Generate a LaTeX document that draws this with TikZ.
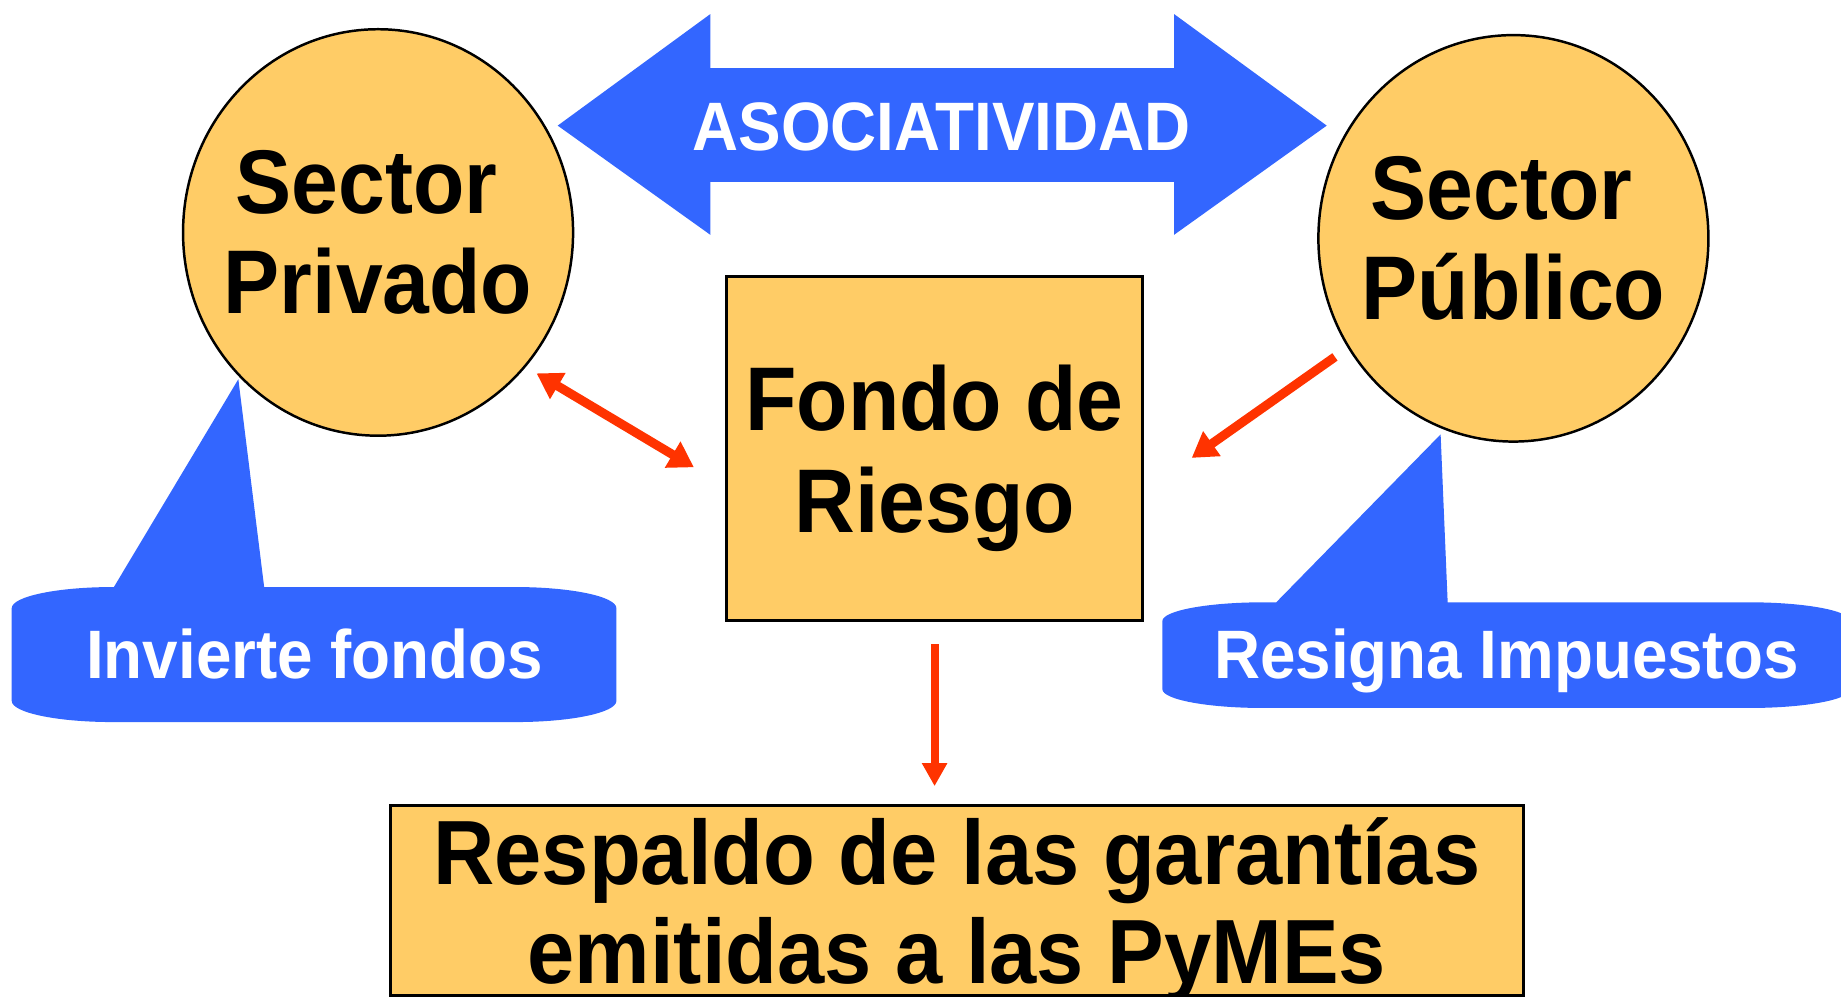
\documentclass[tikz,border=0pt]{standalone}
\usepackage{fontspec}
\setmainfont{Liberation Sans}[FakeStretch=0.93]
\usetikzlibrary{shapes.geometric,arrows.meta}

\definecolor{sectorfill}{HTML}{FFCC66}
\definecolor{asocblue}{HTML}{3366FF}
\definecolor{flecharoja}{HTML}{FF3300}

\begin{document}
\begin{tikzpicture}[x=0.01cm, y=-0.01cm,
  sector/.style={ellipse, draw=black, line width=0.6pt, fill=sectorfill,
    minimum width=3.32cm, minimum height=3.46cm, inner xsep=-0.4cm, inner ysep=0pt,
    align=center, font=\bfseries\fontsize{21.9}{24.2}\selectfont},
  caja/.style={rectangle, draw=black, line width=0.7pt, fill=sectorfill,
    inner sep=0pt, text depth=0pt, align=center},
  textoblanco/.style={text=white, anchor=base,
    font=\bfseries\fontsize{16.6}{18}\selectfont},
  flecha/.style={draw=flecharoja, line width=2.2pt,
    >={Triangle[length=6pt,width=7pt]}}]

\useasboundingbox (0,0) rectangle (1568,849);

%%%%%%%%%%%%%%%%%%%%%%%%%%%%%%%
% doble flecha azul
\fill[asocblue] (475,107) -- (605,12) -- (605,58) -- (1000,58) -- (1000,12)
  -- (1130,107) -- (1000,200) -- (1000,155) -- (605,155) -- (605,200) -- cycle;
\node[textoblanco, font=\bfseries\fontsize{16.6}{18}\selectfont] (asoc) at (802,128) {ASOCIATIVIDAD};

%%%%%%%%%%%%%%%%%%%%%%%%%%%%%%%
% globos azules
\fill[asocblue] (97,500) -- (203,323) -- (225,500) -- (439,500)
  arc[start angle=-90, end angle=0, x radius=86, y radius=18] -- (525,597)
  arc[start angle=0, end angle=90, x radius=86, y radius=18] -- (96,615)
  arc[start angle=90, end angle=180, x radius=86, y radius=18] -- (10,518)
  arc[start angle=180, end angle=270, x radius=86, y radius=18] -- cycle;
\node[textoblanco] (invierte) at (268,578) {Invierte fondos};

\fill[asocblue] (1087,513) -- (1227,370) -- (1233,513) -- (1490,513)
  arc[start angle=-90, end angle=0, x radius=86, y radius=16] -- (1576,587)
  arc[start angle=0, end angle=90, x radius=86, y radius=16] -- (1076,603)
  arc[start angle=90, end angle=180, x radius=86, y radius=16] -- (990,529)
  arc[start angle=180, end angle=270, x radius=86, y radius=16] -- cycle;
\node[textoblanco] (resigna) at (1283,578) {Resigna Impuestos};

%%%%%%%%%%%%%%%%%%%%%%%%%%%%%%%
\node[sector] (privado) at (322,198) {Sector\kern0.2cm\\Privado};
\node[sector] (publico) at (1289,203) {Sector\kern0.2cm\\Público};

\node[caja, minimum width=3.54cm, minimum height=2.93cm,
  font=\bfseries\fontsize{21.9}{24.8}\selectfont] (fondo) at (796,382) {Fondo de\\Riesgo};
\node[caja, minimum width=9.65cm, minimum height=1.62cm,
  font=\bfseries\fontsize{22.1}{24.2}\selectfont] (respaldo) at (815,767)
  {Respaldo de las garantías\\emitidas a las PyMEs};

%%%%%%%%%%%%%%%%%%%%%%%%%%%%%%%
% flechas rojas
\coordinate (privado-fin) at (457,318);
\coordinate (fondo-izq) at (591,398);
\coordinate (publico-fin) at (1137,304);
\coordinate (fondo-der) at (1015,390);

\draw[flecha, <->] (privado-fin) -- (fondo-izq);
\draw[flecha, ->] (publico-fin) -- (fondo-der);
\draw[flecha, ->, line width=1.9pt, >={Triangle[length=5.6pt,width=5.8pt]},
  shorten <=5.4pt, shorten >=4.3pt]
  (fondo.south) -- (fondo.south |- respaldo.north);

\end{tikzpicture}
\end{document}
